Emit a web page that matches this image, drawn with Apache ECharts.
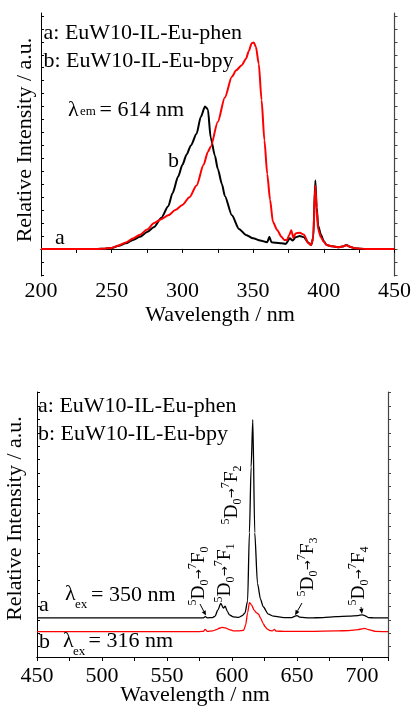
<!DOCTYPE html>
<html><head><meta charset="utf-8">
<script src="https://cdn.jsdelivr.net/npm/echarts@6/dist/echarts.min.js"></script>
<style>html,body{margin:0;padding:0;background:#fff}#c{width:414px;height:707px}</style>
</head><body><div id="c"></div>
<script>
// ---------- Excitation spectra (top panel), monitored at 614 nm ----------
const exWlBlack = [200,220,240,245,250,255,260,265,270,275,280,285,290,293,297,300,303,306,310,313,316,318,320,323,325,328,330,335,340,345,350,355,360,361.5,363,366,370,373,376,378,380,383,386,389,391,392.5,394,395,396,398,400,402,406,410,413,416,419,422,430,450];
const exBlack   = [0,0,0,0.02,0.08,0.25,0.44,0.7,0.95,1.3,1.7,2.4,3.3,4.3,5.6,6.5,7.3,8.0,8.9,10.2,11.0,10.8,8.6,7.2,6.2,5.0,4.1,2.6,1.55,1.08,0.82,0.65,0.52,0.95,0.52,0.48,0.45,0.38,0.82,0.65,0.9,1.0,0.9,0.5,0.3,0.8,5.3,3.2,1.8,1.1,0.6,0.3,0.2,0.13,0.18,0.3,0.15,0.05,0,0];
const exWlRed   = [200,220,240,245,250,255,260,265,270,275,280,285,290,295,300,305,310,315,318,320,325,330,335,338,342,345,347,349,350.5,352,354,356,358,360,362,364,367,370,372,374,375.5,377,378.5,380,383,386,389,391,392.5,394,395,396,398,400,402,406,410,413,416,419,422,430,450];
const exRed     = [0,0,0,0.02,0.08,0.27,0.5,0.8,1.1,1.5,2.0,2.3,2.6,3.0,3.4,4.0,4.9,6.5,7.5,7.9,9.8,11.7,13.3,13.8,14.2,14.7,15.3,15.9,15.95,15.6,14.3,11.5,8.4,5.8,3.8,2.1,1.47,0.95,0.7,0.7,1.05,1.45,0.85,1.2,1.25,1.1,0.45,0.3,0.9,4.9,3.0,1.5,0.9,0.55,0.3,0.2,0.13,0.18,0.28,0.15,0.05,0,0];

// ---------- Emission spectra (bottom panel) ----------
const emWlBlack = [450,500,550,575,578,579.5,581,585,587,589,591.4,593.4,594.7,596.5,598,601,605,608,610,612,613.4,614.7,616,617.5,619.6,622,624,628,632,640,646,648.5,650,652,660,670,680,690,697,700,702,705,710,720];
const emBlack   = [2.92,2.92,2.92,2.92,2.93,3.02,2.93,2.95,3.05,3.5,4.0,3.65,3.8,3.4,3.15,3.0,2.96,3.1,3.3,4.2,9.3,14.2,17.75,9.3,5.5,4.3,3.76,3.2,3.05,2.95,2.95,3.05,3.1,2.98,2.92,2.95,3.02,3.06,3.1,3.15,3.1,2.95,2.92,2.92];
const emWlRed   = [450,500,550,575,578,579.4,581,585,588,590,592.2,595,598,601,605,609,610.5,612,613.4,615,617,619,620.4,622,624,625.5,627,629.3,631,632.6,634,640,660,680,690,697,700,702,705,710,720];
const emRed     = [1.9,1.9,1.9,1.9,1.92,2.07,1.92,1.95,2.05,2.15,2.22,2.18,2.05,1.96,1.95,2.0,2.4,3.3,4.07,3.9,3.5,3.3,3.2,2.9,2.5,2.27,2.1,1.98,1.95,2.07,1.93,1.92,1.92,1.95,1.98,2.05,2.1,2.14,2.05,1.92,1.9];

// ---------- Axes / texts ----------
const topXRange = [200, 450];
const botXRange = [450, 720];
const xTickStep = 25;
const xLabelStep = 50;
const topYRange = [-2.09, 18.23];
const topYTicks = [-2,-1,0,1,2,3,4,5,6,7,8,9,10,11,12,13,14,15,16,17,18];
const botYRange = [0, 19.82];
const botYTicks = [0.77,1.77,2.77,3.77,4.77,5.77,6.77,7.77,8.77,9.77,10.77,11.77,12.77,13.77,14.77,15.77,16.77,17.77,18.77,19.77];
const legendA = 'a: EuW10-IL-Eu-phen';
const legendB = 'b: EuW10-IL-Eu-bpy';
const xTitle = 'Wavelength / nm';
const yTitle = 'Relative Intensity / a.u.';
// transition annotations: [final-state index, anchor wavelength on black curve]
const transitions = [['0', 580], ['1', 592], ['2', 616], ['3', 648.5], ['4', 700]];

const FONT = 'Liberation Serif';
const F = s => s + 'px "Liberation Serif", "Times New Roman", serif';
const RED = '#ff0000';
const pairs = (xs, ys) => xs.map((x, i) => [x, ys[i]]);

const chart = echarts.init(document.getElementById('c'), null, {renderer: 'canvas'});

function xAxisPair(gi, range, labelMargin, topTicks) {
  return [
    {gridIndex: gi, type: 'value', position: 'bottom', min: range[0], max: range[1], interval: xTickStep,
     axisLine: {show: true, lineStyle: {color: '#000', width: 1}},
     axisTick: {show: true, inside: false, length: 4, lineStyle: {color: '#000', width: 1}},
     axisLabel: {show: true, margin: labelMargin, fontFamily: FONT, fontSize: 22, color: '#000',
       formatter: v => (Math.abs(v % xLabelStep) < 1e-6 ? String(v) : '')},
     splitLine: {show: false}},
    {gridIndex: gi, type: 'value', position: 'top', min: range[0], max: range[1], interval: xTickStep,
     axisLine: {show: true, lineStyle: {color: '#000', width: 1}},
     axisTick: {show: topTicks, inside: true, length: 3, lineStyle: {color: '#000', width: 1}},
     axisLabel: {show: false}, splitLine: {show: false}}
  ];
}
function yAxisPair(gi, range, ticks) {
  return [
    {gridIndex: gi, type: 'value', position: 'left', min: range[0], max: range[1],
     axisLine: {show: true, lineStyle: {color: '#000', width: 1}},
     axisTick: {show: true, inside: true, length: 3, customValues: ticks, lineStyle: {color: '#000'}},
     axisLabel: {show: false}, splitLine: {show: false}},
    {gridIndex: gi, type: 'value', position: 'right', min: range[0], max: range[1],
     axisLine: {show: true, lineStyle: {color: '#444', width: 1.2}},
     axisTick: {show: true, inside: false, length: 3, customValues: ticks, lineStyle: {color: '#444'}},
     axisLabel: {show: false}, splitLine: {show: false}}
  ];
}

const lineSeries = (name, data, xi, yi, color, w) => ({
  name, type: 'line', xAxisIndex: xi, yAxisIndex: yi, data, showSymbol: false, symbol: 'none',
  smooth: 0.25, smoothMonotone: 'x', lineStyle: {color, width: w}, itemStyle: {color}, z: 3
});

chart.setOption({
  animation: false,
  backgroundColor: '#fff',
  grid: [
    {left: 41, top: 13, width: 355, height: 263},
    {left: 37, top: 392, width: 351, height: 265}
  ],
  xAxis: [...xAxisPair(0, topXRange, 4, true), ...xAxisPair(1, botXRange, 8, false)],
  yAxis: [...yAxisPair(0, topYRange, topYTicks), ...yAxisPair(1, botYRange, botYTicks)],
  series: [
    lineSeries('ex-b', pairs(exWlBlack, exBlack), 0, 0, '#000', 2),
    lineSeries('ex-a', pairs(exWlRed, exRed), 0, 0, RED, 2),
    lineSeries('em-a', pairs(emWlBlack, emBlack), 2, 2, '#000', 1.3),
    lineSeries('em-b', pairs(emWlRed, emRed), 2, 2, RED, 1.3)
  ]
});

// ---------- text and annotation graphics ----------
const txt = (text, x, y, size, opts = {}) => Object.assign({
  type: 'text', x, y, silent: true, z: 10,
  style: Object.assign({text, fill: '#000', font: F(size), align: 'left', verticalAlign: 'middle'}, opts.style || {})
}, opts.el || {});

const g = [];
// top panel
g.push(txt(legendA, 43.5, 33, 22));
g.push(txt(legendB, 43.5, 61, 22));
g.push(txt('λ', 68, 110, 22));
g.push(txt('em', 80, 111.5, 13));
g.push(txt('= 614 nm', 99.5, 110, 22));
g.push(txt('b', 168, 161, 22));
g.push(txt('a', 55, 238, 22));
g.push(txt(xTitle, 220, 315.5, 22, {style: {align: 'center'}}));
g.push(txt(yTitle, 25, 140, 22, {style: {align: 'center'}, el: {rotation: Math.PI / 2}}));
// bottom panel
g.push(txt(legendA, 38, 406.5, 22));
g.push(txt(legendB, 38, 434.5, 22));
g.push(txt('a', 39, 605.5, 22));
g.push(txt('λ', 65, 594, 22));
g.push(txt('ex', 75, 605, 13));
g.push(txt('= 350 nm', 91, 595, 22));
g.push(txt('b', 39, 642, 22));
g.push(txt('λ', 63, 641.5, 22));
g.push(txt('ex', 73, 651.5, 13));
g.push(txt('= 316 nm', 88.5, 641.5, 22));
g.push(txt(xTitle, 195, 695.5, 22, {style: {align: 'center'}}));
g.push(txt(yTitle, 15.5, 518.5, 22, {style: {align: 'center'}, el: {rotation: Math.PI / 2}}));

// rotated 5D0 -> 7FJ labels
const rich = {
  m: {font: F(19.5), lineHeight: 24, verticalAlign: 'middle', fill: '#000'},
  s: {font: F(12), lineHeight: 12, verticalAlign: 'top', fill: '#000'},
  b: {font: F(12), lineHeight: 12, verticalAlign: 'bottom', fill: '#000'},
  a: {font: '12px "DejaVu Sans"', lineHeight: 24, verticalAlign: 'middle', fill: '#000'}
};
const labelCenters = [[199, 576], [225, 573], [232, 495], [308, 567], [358.5, 576]];
transitions.forEach((t, i) => {
  const [cx, cy] = labelCenters[i];
  g.push({type: 'text', x: cx, y: cy, rotation: Math.PI / 2, silent: true, z: 10,
    style: {text: '{s|5}{m|D}{b|0}{a|→}{s|7}{m|F}{b|' + t[0] + '}', rich, fill: '#000',
      font: F(19.5), align: 'center', verticalAlign: 'middle'}});
});

// arrows pointing at the weak peaks (tips computed from the data scale)
function baselineAt(wl) {
  let best = 0;
  for (let i = 0; i < emWlBlack.length; i++) if (Math.abs(emWlBlack[i] - wl) < Math.abs(emWlBlack[best] - wl)) best = i;
  return emBlack[best];
}
const arrowDefs = [[0, [200, 604]], [3, [302, 603]], [4, [361, 607]]];
arrowDefs.forEach(([ti, tail]) => {
  const wl = transitions[ti][1];
  const tip = chart.convertToPixel({xAxisIndex: 2, yAxisIndex: 2}, [wl, baselineAt(wl)]);
  tip[1] -= 1;
  const dx = tip[0] - tail[0], dy = tip[1] - tail[1];
  const L = Math.hypot(dx, dy), ux = dx / L, uy = dy / L;
  const hl = 5, hw = 2.2;
  const bx = tip[0] - ux * hl, by = tip[1] - uy * hl;
  g.push({type: 'line', silent: true, z: 9, shape: {x1: tail[0], y1: tail[1], x2: bx, y2: by},
    style: {stroke: '#000', lineWidth: 1}});
  g.push({type: 'polygon', silent: true, z: 9,
    shape: {points: [[tip[0], tip[1]], [bx - uy * hw, by + ux * hw], [bx + uy * hw, by - ux * hw]]},
    style: {fill: '#000'}});
});

chart.setOption({graphic: g});
</script>
</body></html>
